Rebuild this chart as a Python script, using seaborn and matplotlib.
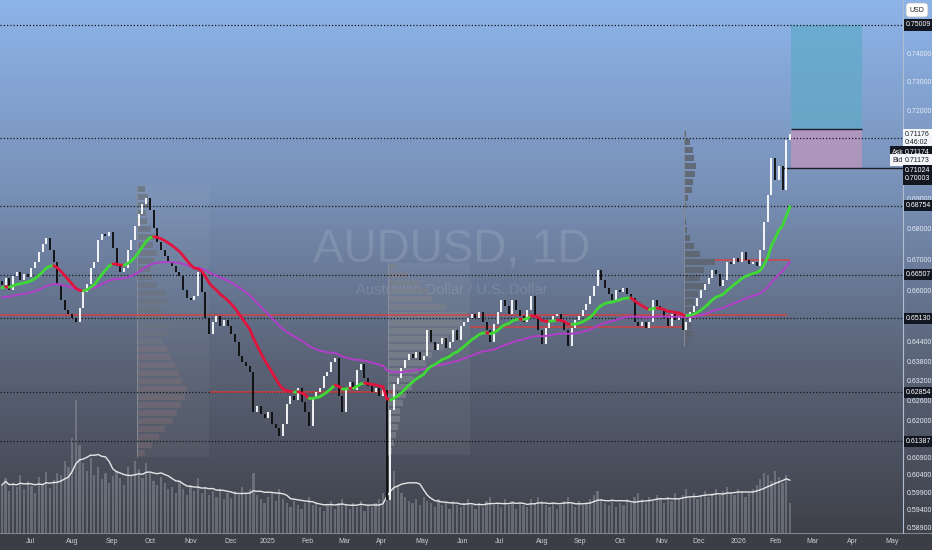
import numpy as np
import pandas as pd
import seaborn as sns
import matplotlib.pyplot as plt
from matplotlib.colors import LinearSegmentedColormap
from matplotlib.patches import Rectangle
from matplotlib.ticker import NullLocator
from matplotlib.transforms import blended_transform_factory

# AUDUSD, 2-day candles (close prices), Jun 2024 -> Feb 2026
closes = [
    0.6618, 0.6641, 0.6602, 0.6647, 0.6660, 0.6634, 0.6654, 0.6644, 0.6673, 0.6692,
    0.6724, 0.6750, 0.6770, 0.6731, 0.6692, 0.6618, 0.6571, 0.6539, 0.6527, 0.6514,
    0.6501, 0.6545, 0.6596, 0.6622, 0.6673, 0.6692, 0.6763, 0.6783, 0.6776, 0.6789,
    0.6737, 0.6679, 0.6660, 0.6673, 0.6731, 0.6763, 0.6809, 0.6848, 0.6882, 0.6901,
    0.6862, 0.6803, 0.6757, 0.6731, 0.6711, 0.6692, 0.6679, 0.6660, 0.6647, 0.6602,
    0.6577, 0.6571, 0.6583, 0.6660, 0.6596, 0.6514, 0.6464, 0.6501, 0.6520, 0.6489,
    0.6508, 0.6489, 0.6464, 0.6439, 0.6396, 0.6378, 0.6365, 0.6347, 0.6226, 0.6244,
    0.6220, 0.6208, 0.6226, 0.6190, 0.6178, 0.6154, 0.6190, 0.6250, 0.6274, 0.6262,
    0.6298, 0.6256, 0.6226, 0.6184, 0.6268, 0.6286, 0.6298, 0.6335, 0.6347, 0.6378,
    0.6390, 0.6274, 0.6226, 0.6298, 0.6316, 0.6292, 0.6353, 0.6371, 0.6329, 0.6304,
    0.6286, 0.6298, 0.6274, 0.6292, 0.5968, 0.6232, 0.6310, 0.6329, 0.6359, 0.6384,
    0.6402, 0.6390, 0.6408, 0.6384, 0.6396, 0.6476, 0.6439, 0.6414, 0.6433, 0.6452,
    0.6421, 0.6439, 0.6476, 0.6445, 0.6489, 0.6501, 0.6514, 0.6527, 0.6514, 0.6533,
    0.6501, 0.6476, 0.6439, 0.6495, 0.6533, 0.6571, 0.6552, 0.6527, 0.6571, 0.6539,
    0.6520, 0.6501, 0.6539, 0.6583, 0.6520, 0.6476, 0.6433, 0.6483, 0.6501, 0.6520,
    0.6527, 0.6501, 0.6476, 0.6427, 0.6483, 0.6508, 0.6520, 0.6539, 0.6558, 0.6583,
    0.6615, 0.6666, 0.6634, 0.6609, 0.6590, 0.6571, 0.6602, 0.6596, 0.6609, 0.6590,
    0.6577, 0.6501, 0.6489, 0.6501, 0.6483, 0.6501, 0.6571, 0.6552, 0.6539, 0.6514,
    0.6489, 0.6527, 0.6508, 0.6520, 0.6476, 0.6501, 0.6533, 0.6552, 0.6577, 0.6602,
    0.6622, 0.6641, 0.6666, 0.6654, 0.6615, 0.6634, 0.6692, 0.6686, 0.6705, 0.6692,
    0.6724, 0.6699, 0.6686, 0.6692, 0.6679, 0.6731, 0.6822, 0.6911, 0.7036, 0.6961,
    0.7009, 0.6928, 0.7097, 0.7118,
]
first_open = 0.6630

volumes = [
    48, 55, 42, 50, 46, 58, 44, 52, 47, 40, 56, 49, 61, 45, 53,
    60, 58, 72, 66, 95, 133, 88, 70, 62, 75, 58, 66, 54, 60, 50, 57,
    62, 55, 48, 66, 58, 72, 64, 55, 70, 60, 52, 48, 56, 50, 44,
    46, 40, 52, 44, 38, 48, 42, 55, 40, 46, 38, 42, 36, 44, 34,
    40, 35, 42, 38, 46, 40, 44, 60, 38, 34, 30, 36, 40, 32, 44,
    34, 30, 26, 32, 28, 24, 30, 36, 28, 30, 26, 22, 28, 32, 24,
    30, 34, 28, 24, 30, 26, 32, 22, 28, 26, 30, 34, 40,
    95, 85, 62, 48, 40, 36, 32,
    30, 34, 28, 36, 32, 30, 26, 34, 28, 30, 24, 32, 28, 26, 30, 34, 28, 24, 30, 26,
    32, 36, 28, 30, 26, 34, 28, 32, 24, 30, 28, 26, 34, 30, 36, 32, 28, 26, 30, 24,
    28, 32, 36, 30, 26, 32, 28, 30, 34, 38, 42, 34, 30, 28, 32, 26, 30, 28, 34, 30,
    36, 40, 34, 30, 36, 32, 38, 34, 30, 36, 32, 40, 34, 38, 44, 36, 40, 34, 38, 42,
    36, 40, 44, 38, 42, 46, 40, 38, 44, 42, 36, 40, 44, 48, 54, 60, 58, 52, 62, 56, 50, 58, 30,
]

# moving average starting values (read at the left edge)
fast_start = 0.6608
slow_start = 0.6577

month_pos = [7.6, 19.0, 29.8, 40.0, 51.1, 61.7, 71.9, 82.7, 92.5, 102.7, 113.6, 124.4,
             134.6, 146.0, 156.3, 167.1, 178.4, 188.2, 199.0, 209.0, 219.2, 230.0, 240.6]
month_labels = ['Jul', 'Aug', 'Sep', 'Oct', 'Nov', 'Dec', '2025', 'Feb', 'Mar', 'Apr', 'May', 'Jun',
                'Jul', 'Aug', 'Sep', 'Oct', 'Nov', 'Dec', '2026', 'Feb', 'Mar', 'Apr', 'May']

price_ticks = [0.74, 0.73, 0.72, 0.69, 0.68, 0.67, 0.66, 0.644, 0.638, 0.632, 0.626,
               0.62, 0.609, 0.604, 0.599, 0.594, 0.589]
levels = [0.75009, 0.71024, 0.68754, 0.66507, 0.65130, 0.62854, 0.61387]
level_labels = [0.75009, 0.68754, 0.66507, 0.65130, 0.62854, 0.61387]

# red horizontal lines (price, from bar, to bar)
red_prices = [0.6523, 0.6286, 0.6485, 0.6699]
red_from = [-0.5, 56.3, 126.5, 192.7]
red_to = [212.2, 106.0, 184.1, 213.0]

# volume profiles (relative volume per price row, top -> bottom)
prof_left = [8, 11, 12, 9, 10, 14, 18, 16, 20, 17, 14, 15, 20, 28, 30, 24, 27, 32, 30, 26,
             30, 34, 38, 42, 45, 50, 48, 44, 40, 36, 28, 22, 15, 8]
prof_mid = [9, 20, 32, 40, 44, 58, 79, 74, 68, 60, 56, 44, 38, 30, 26, 24, 18, 15, 12, 12,
            10, 8, 6, 4]
prof_right = [2, 6, 9, 10, 12, 11, 9, 8, 4, 2, 1, 2, 3, 6, 10, 16, 31, 20, 16, 22, 14, 10,
              12, 8, 7, 9, 5]
prof_range = {'left': (0.69448, 0.60922, 36.5), 'mid': (0.66888, 0.60981, 104.4),
              'right': (0.71312, 0.64268, 184.4)}

# long position tool
pos_start, pos_end = 213.3, 232.5
pos_target, pos_entry, pos_stop = 0.75009, 0.7135, 0.70003

df = pd.DataFrame({'close': closes, 'volume': volumes})
df['open'] = df['close'].shift(1).fillna(first_open)
df['idx'] = np.arange(len(df))
df['fast'] = pd.concat([pd.Series([fast_start]), df['close']]).ewm(span=17, adjust=False).mean().iloc[1:].values
df['slow'] = pd.concat([pd.Series([slow_start]), df['close']]).ewm(span=55, adjust=False).mean().iloc[1:].values
df['vol_ma'] = df['volume'].rolling(10, min_periods=1).mean()

sns.set_theme(style="dark")
plt.rcParams['font.family'] = ['Liberation Sans', 'DejaVu Sans']

fig = plt.figure(figsize=(9.32, 5.5), dpi=100)

# background gradient
bg = fig.add_axes([0, 0, 1, 1], zorder=-5)
cmap = LinearSegmentedColormap.from_list(
    'tv', [(0, '#8db4e9'), (0.35, '#7890b6'), (0.65, '#5b6478'), (1, '#3c3e46')])
bg.imshow(np.linspace(0, 1, 256).reshape(-1, 1), cmap=cmap, aspect='auto',
          extent=[0, 1, 0, 1], origin='upper')
bg.axhspan(0, 17 / 550, color='#3c3e45')
bg.axhline(17 / 550, color='#80848d', lw=0.8)
bg.axvline(903 / 932, ymin=17 / 550, color='#b0bdd3', lw=0.8)
bg.set_xlim(0, 1)
bg.set_ylim(0, 1)
bg.axis('off')

ax = fig.add_axes([0, 17 / 550, 903 / 932, 533 / 550])
axv = ax.twinx()
axv.set_zorder(1)
ax.set_zorder(2)
for a in (ax, axv):
    a.patch.set_visible(False)
    a.grid(False)
    for s in a.spines.values():
        s.set_visible(False)

# volume
axv.bar(df['idx'], df['volume'], width=0.6, color='#8e939d', alpha=0.5, linewidth=0)
sns.lineplot(x=df['idx'], y=df['vol_ma'], ax=axv, color='white', lw=1, alpha=0.85)
axv.set_ylim(0, 533)
axv.set_yticks([])
axv.set_ylabel('')

ax.set_yscale('log')
ax.set_ylim(0.58734, 0.75917)
ax.set_xlim(-0.5, 243.55)

# volume profiles
def draw_profile(vals, key, color, alpha, low_color=None, split=None):
    top, bottom, base = prof_range[key]
    edges = np.geomspace(top, bottom, len(vals) + 1)
    for k, v in enumerate(vals):
        hi, lo = edges[k], edges[k + 1]
        c = color
        a_ = alpha
        if split is not None and hi < split:
            c, a_ = low_color, 0.3
        ax.barh(lo + (hi - lo) * 0.12, v * 0.27, height=(hi - lo) * 0.76, left=base,
                align='edge', color=c, alpha=a_, linewidth=0, zorder=2)
    ax.vlines(base, bottom, top, color='#8a909c', lw=0.6, zorder=2)

ax.add_patch(Rectangle((36.5, 0.60922), 19.5, 0.69448 - 0.60922, color='white', alpha=0.04, lw=0, zorder=1))
ax.add_patch(Rectangle((104.4, 0.60981), 22.0, 0.66888 - 0.60981, color='white', alpha=0.05, lw=0, zorder=1))
draw_profile(prof_left, 'left', '#6c7482', 0.8, low_color='#94767a', split=0.645)
draw_profile(prof_mid, 'mid', '#7b818c', 0.75)
draw_profile(prof_right, 'right', '#5d636e', 0.85)

# level lines
for p in levels:
    ax.axhline(p, color='#15171c', lw=0.9, ls=(0, (1, 1.6)), zorder=3)
ax.hlines(red_prices, red_from, red_to, color='#e23a3a', lw=1.1, alpha=0.85, zorder=3)

# watermark
ax.text(0.5, 0.531, 'AUDUSD, 1D', transform=ax.transAxes, ha='center', va='center',
        fontsize=33, color='white', alpha=0.12, zorder=1)
ax.text(0.5, 0.456, 'Australian Dollar / U.S. Dollar', transform=ax.transAxes, ha='center',
        va='center', fontsize=10.5, color='white', alpha=0.12, zorder=1)

# position tool
ax.add_patch(Rectangle((pos_start, pos_entry), pos_end - pos_start, pos_target - pos_entry,
                       color='#5eaac8', alpha=0.7, lw=0, zorder=2))
ax.add_patch(Rectangle((pos_start, pos_stop), pos_end - pos_start, pos_entry - pos_stop,
                       color='#cf94bb', alpha=0.6, lw=0, zorder=2))
ax.hlines(pos_entry, pos_start, pos_end, color='#1b1e26', lw=1, zorder=4)
ax.hlines(pos_stop, 210.9, 243.55, color='#1b1e26', lw=1, zorder=4)

# candles
lo = np.minimum(df['open'], df['close'])
hi = np.maximum(df['open'], df['close'])
hi = np.maximum(hi, lo + 0.0004)
colors = np.where(df['close'] >= df['open'], '#ffffff', '#0b0b0b')
ax.vlines(df['idx'], lo, hi, colors=colors, lw=1.3, zorder=5)

# moving averages
sns.lineplot(x=df['idx'], y=df['slow'], ax=ax, color='#b23ec9', lw=1.4, zorder=6)
fast = df['fast'].values
seg_col = np.where(np.diff(fast) >= 0, '#3fd936', '#e0143c')
run_start = 0
for j in range(1, len(seg_col) + 1):
    if j == len(seg_col) or seg_col[j] != seg_col[run_start]:
        ax.plot(df['idx'][run_start:j + 1], fast[run_start:j + 1], color=seg_col[run_start],
                lw=2.0, solid_capstyle='round', zorder=7)
        run_start = j
ax.set_xlabel('')
ax.set_ylabel('')

# axes ticks
ax.yaxis.tick_right()
ax.set_yticks(price_ticks)
ax.set_yticklabels([f'{t:.5f}' for t in price_ticks])
ax.yaxis.set_minor_locator(NullLocator())
ax.tick_params(axis='y', length=0, labelsize=5, labelcolor='#e6ecf5', pad=3)
ax.set_xticks(month_pos)
ax.set_xticklabels(month_labels)
ax.tick_params(axis='x', length=0, labelsize=5, labelcolor='#c9ccd3', pad=3.5)

# price labels on the scale
trans = blended_transform_factory(ax.transAxes, ax.transData)
for p in level_labels:
    ax.text(1.003, p, f'{p:.5f}', transform=trans, fontsize=5, color='white', va='center',
            ha='left', bbox=dict(boxstyle='square,pad=0.3', fc='#131722', ec='none'),
            clip_on=False, zorder=10)

def fig_label(px, py, text, fc, tc):
    fig.text(px / 932, 1 - py / 550, text, fontsize=5, color=tc, va='center', ha='left',
             bbox=dict(boxstyle='square,pad=0.3', fc=fc, ec='none'), zorder=10)

fig_label(905, 139, '0.71176\n0:46:02', '#f4f6fa', '#1b1e26')
fig_label(892, 152, 'Ask', '#131722', 'white')
fig_label(905, 152, '0.71174', '#131722', 'white')
fig_label(892, 160, 'Bid', '#f4f6fa', '#1b1e26')
fig_label(905, 160, '0.71173', '#f4f6fa', '#1b1e26')
fig_label(905, 170.5, '0.71024', '#131722', 'white')
fig_label(905, 179, '0.70003', '#131722', 'white')
fig.text(917 / 932, 1 - 10 / 550, 'USD', ha='center', va='center', fontsize=5, color='#222222',
         bbox=dict(boxstyle='round,pad=0.5', fc='white', ec='#c0c0c0', lw=0.5))

fig.savefig('out.png', dpi=100)
